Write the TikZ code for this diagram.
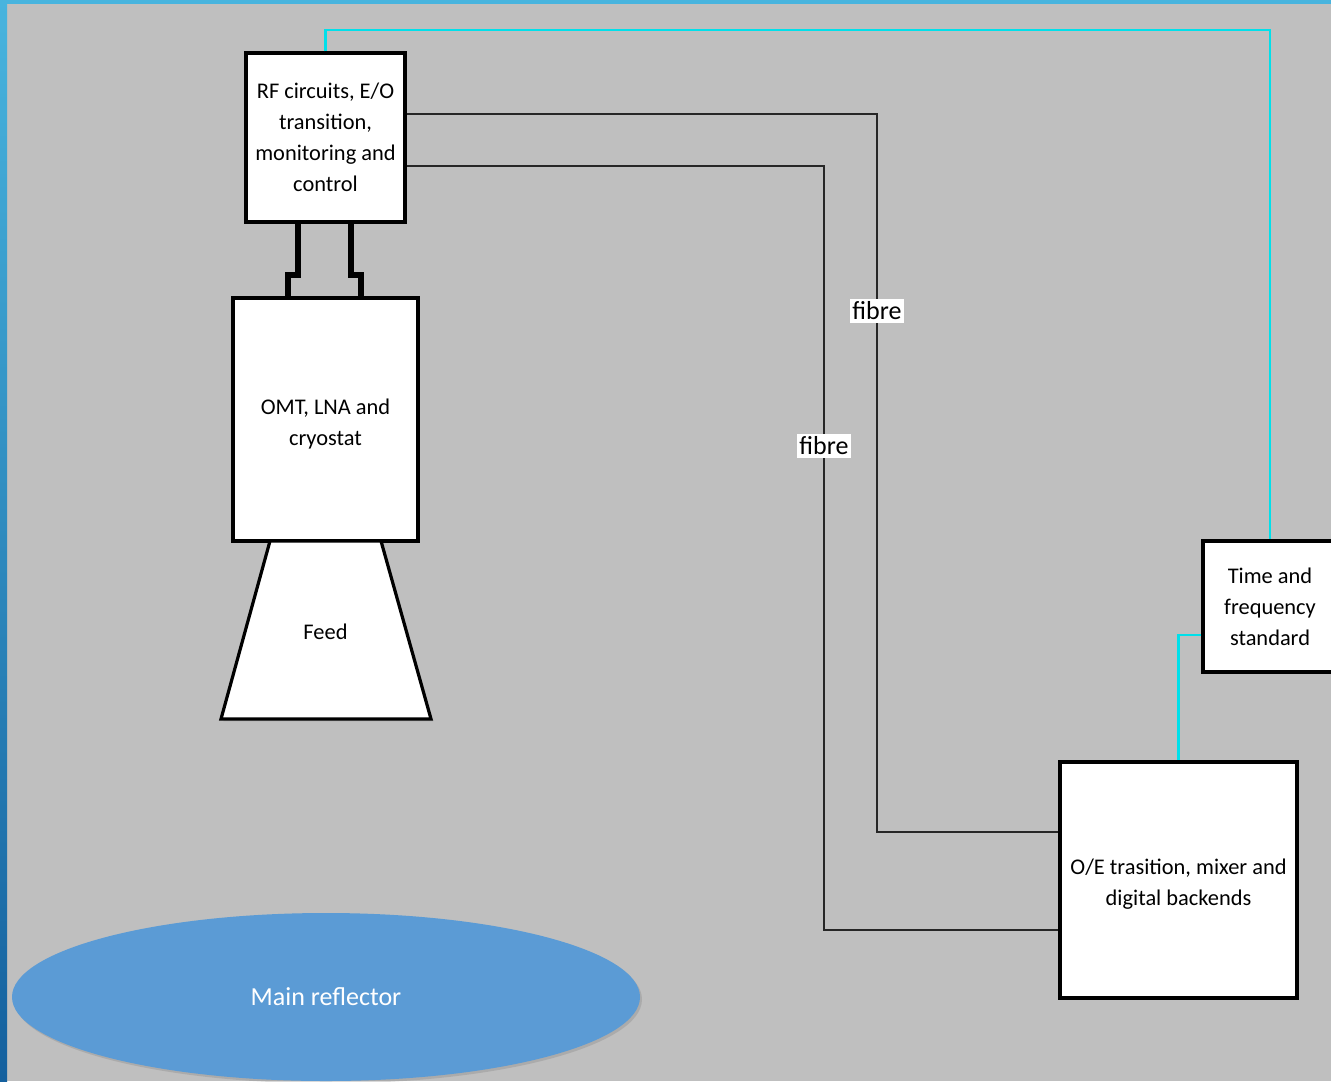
\documentclass[tikz,border=0pt]{standalone}
\usepackage{fontspec}
\setmainfont{Carlito}
\usetikzlibrary{shapes.geometric, shadows}
\definecolor{slidegray}{HTML}{BFBFBF}
\definecolor{edgelight}{HTML}{48B4DE}
\definecolor{edgedark}{HTML}{14609E}
\definecolor{reflblue}{HTML}{5B9BD5}
\definecolor{clockcyan}{HTML}{00E0EA}
\definecolor{fibregray}{HTML}{262626}

\tikzset{
  unit/.style={draw=black, line width=1.6pt, fill=white, align=center,
    font=\fontsize{11.2}{15.4}\selectfont, inner sep=2pt,
    drop shadow={opacity=0.25, shadow xshift=1.2pt, shadow yshift=-1.2pt}},
  fibreline/.style={draw=fibregray, line width=1pt},
  clockline/.style={draw=clockcyan, line width=1.1pt},
  waveguide/.style={draw=black, line width=3pt},
  fibrelabel/.style={fill=white, inner sep=1.2pt, font=\fontsize{13}{15}\selectfont}
}

\begin{document}
\begin{tikzpicture}[x=0.5pt, y=-0.5pt]
  % slide background
  \useasboundingbox (0,0) rectangle (1331,1081);
  \fill[slidegray] (0,0) rectangle (1331,1081);
  \shade[top color=edgelight, bottom color=edgedark] (0,0) rectangle (7,1081);
  \fill[edgelight] (0,0) rectangle (1331,4);

  % blocks
  \node[unit, minimum width=79.5pt, minimum height=84.5pt] (rf) at (325.5,137.5)
    {RF circuits, E/O\\transition,\\monitoring and\\control};
  \node[unit, minimum width=92.5pt, minimum height=121.5pt] (omt) at (325.5,419.5)
    {\rule{0pt}{12pt}OMT, LNA and\\cryostat};
  \node[unit, minimum width=67pt, minimum height=65.5pt] (time) at (1270,606.5)
    {Time and\\frequency\\standard};
  \node[unit, minimum width=118.5pt, minimum height=118pt] (oe) at (1178.5,880)
    {\rule{0pt}{12pt}O/E trasition, mixer and\\digital backends};

  % feed horn
  \draw[line width=1.6pt, fill=white,
    drop shadow={opacity=0.25, shadow xshift=1.2pt, shadow yshift=-1.2pt}]
    (270,541) -- (381,541) -- (431,719) -- (221,719) -- cycle;
  \node[font=\fontsize{11.2}{15}\selectfont] (feed) at (325.5,632) {Feed};

  % main reflector
  \node[ellipse, fill=reflblue, text=white, minimum width=314pt, minimum height=84pt,
    font=\fontsize{13}{15}\selectfont,
    drop shadow={opacity=0.3, shadow xshift=1pt, shadow yshift=-1.2pt}]
    (refl) at (326,997) {Main reflector};

  % waveguides between rf and omt
  \coordinate (w1) at (298,275);
  \coordinate (w2) at (351,275);
  \draw[waveguide] (rf.south -| w1) -- (w1) -- ++(-10,0) coordinate (w1b) -- (omt.north -| w1b);
  \draw[waveguide] (rf.south -| w2) -- (w2) -- ++(10,0) coordinate (w2b) -- (omt.north -| w2b);

  % fibres
  \coordinate (f1top) at (877,114);
  \coordinate (f1bot) at (877,832);
  \coordinate (f2top) at (824,166);
  \coordinate (f2bot) at (824,930);
  \draw[fibreline] (rf.east |- f1top) -- (f1top) -- (f1bot) -- (oe.west |- f1bot);
  \draw[fibreline] (rf.east |- f2top) -- (f2top) -- (f2bot) -- (oe.west |- f2bot);
  \node[fibrelabel] (lab1) at (877,311) {fibre};
  \node[fibrelabel] (lab2) at (824,446) {fibre};

  % reference clock
  \coordinate (c1) at (1270,30);
  \coordinate (c2) at (1179,635);
  \draw[clockline] (rf.north) |- (c1) -- (time.north);
  \draw[clockline] (time.west |- c2) -| (oe.north);
\end{tikzpicture}
\end{document}
